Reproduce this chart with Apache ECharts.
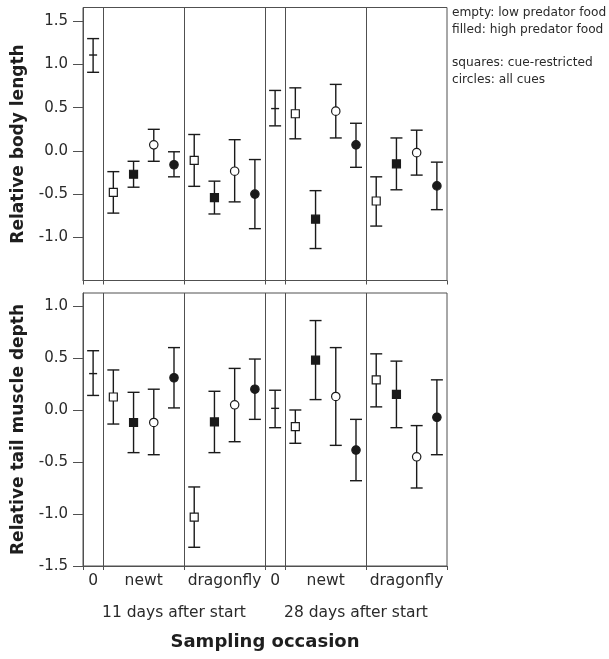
<!DOCTYPE html>
<html>
<head>
<meta charset="utf-8">
<script src="https://cdn.jsdelivr.net/npm/echarts@6/dist/echarts.min.js"></script>
<style>
  html, body { margin: 0; padding: 0; background: #fff; }
  #chart { width: 609px; height: 659px; }
</style>
</head>
<body>
<div id="chart"></div>
<script>
// groups along the x axis
const groupNames = ['0', 'newt', 'dragonfly', '0', 'newt', 'dragonfly'];
const groupSizes = [1, 4, 4, 1, 4, 4];
const dayLabels = ['11 days after start', '28 days after start'];

// marker kind per point: ref = start value, sq = cue-restricted, ci = all cues; Open = low, Fill = high food
const pointKind = [
  'ref', 'sqOpen', 'sqFill', 'ciOpen', 'ciFill', 'sqOpen', 'sqFill', 'ciOpen', 'ciFill',
  'ref', 'sqOpen', 'sqFill', 'ciOpen', 'ciFill', 'sqOpen', 'sqFill', 'ciOpen', 'ciFill'
];

// relative body length
const bodyMean  = [1.11, -0.48, -0.27, 0.07, -0.16, -0.11, -0.54, -0.235, -0.50, 0.49, 0.43, -0.79, 0.46, 0.07, -0.58, -0.15, -0.02, -0.405];
const bodyUpper = [1.30, -0.24, -0.12, 0.25, -0.01, 0.19, -0.35, 0.13, -0.10, 0.70, 0.73, -0.46, 0.77, 0.32, -0.30, 0.15, 0.24, -0.13];
const bodyLower = [0.91, -0.72, -0.42, -0.12, -0.30, -0.41, -0.73, -0.59, -0.90, 0.29, 0.14, -1.13, 0.15, -0.19, -0.87, -0.45, -0.28, -0.68];

// relative tail muscle depth
const tailMean  = [0.35, 0.125, -0.12, -0.12, 0.31, -1.03, -0.115, 0.05, 0.20, 0.016, -0.16, 0.48, 0.13, -0.385, 0.29, 0.15, -0.45, -0.07];
const tailUpper = [0.57, 0.385, 0.17, 0.20, 0.60, -0.74, 0.18, 0.40, 0.49, 0.19, 0.0, 0.86, 0.60, -0.09, 0.54, 0.47, -0.15, 0.29];
const tailLower = [0.14, -0.135, -0.41, -0.43, 0.02, -1.32, -0.41, -0.305, -0.09, -0.17, -0.32, 0.10, -0.34, -0.68, 0.03, -0.17, -0.75, -0.43];

const bodyTicks = [-1.0, -0.5, 0.0, 0.5, 1.0, 1.5];
const tailTicks = [-1.5, -1.0, -0.5, 0.0, 0.5, 1.0];

const legendLines = ['empty: low predator food', 'filled: high predator food', '', 'squares: cue-restricted', 'circles: all cues'];

// positions derived from group sizes
const boundaries = [0];
groupSizes.forEach(s => boundaries.push(boundaries[boundaries.length - 1] + s));
const xMax = boundaries[boundaries.length - 1];
const dividers = boundaries.slice(1, -1);
const groupCenters = groupSizes.map((s, i) => boundaries[i] + s / 2);
const dayCenters = [boundaries[3] / 2, (boundaries[3] + xMax) / 2];
const xPos = [];
groupSizes.forEach((s, i) => { for (let j = 0; j < s; j++) xPos.push(boundaries[i] + j + 0.5); });

const kinds = ['ref', 'sqOpen', 'sqFill', 'ciOpen', 'ciFill'];
const FONT = '"DejaVu Sans", "Liberation Sans", Arial, sans-serif';
const INK = '#1a1a1a';
const FRAME = '#505050';
const TEXT = '#2a2a2a';

const build = (mean, lo, hi) => xPos.map((x, i) => [x, mean[i], lo[i], hi[i], kinds.indexOf(pointKind[i])]);

function renderErr(params, api) {
  const x = api.value(0);
  const k = kinds[api.value(4)];
  const pM = api.coord([x, api.value(1)]);
  const pLo = api.coord([x, api.value(2)]);
  const pHi = api.coord([x, api.value(3)]);
  const ls = { stroke: INK, lineWidth: 1.4 };
  const cap = 6;
  const children = [
    { type: 'line', shape: { x1: pM[0], y1: pLo[1], x2: pM[0], y2: pHi[1] }, style: ls },
    { type: 'line', shape: { x1: pM[0] - cap, y1: pLo[1], x2: pM[0] + cap, y2: pLo[1] }, style: ls },
    { type: 'line', shape: { x1: pM[0] - cap, y1: pHi[1], x2: pM[0] + cap, y2: pHi[1] }, style: ls }
  ];
  const fill = k.endsWith('Fill') ? INK : '#fff';
  if (k === 'ref') {
    children.push({ type: 'line', shape: { x1: pM[0] - 4, y1: pM[1], x2: pM[0] + 4, y2: pM[1] }, style: ls });
  } else if (k.startsWith('sq')) {
    const s = 8;
    children.push({ type: 'rect', shape: { x: pM[0] - s / 2, y: pM[1] - s / 2, width: s, height: s }, style: { fill, stroke: INK, lineWidth: 1.2 } });
  } else {
    children.push({ type: 'circle', shape: { cx: pM[0], cy: pM[1], r: 4.2 }, style: { fill, stroke: INK, lineWidth: 1.2 } });
  }
  return { type: 'group', children };
}

const dividerSeries = (idx) => ({
  type: 'line', xAxisIndex: idx, yAxisIndex: idx, data: [], silent: true,
  markLine: {
    symbol: 'none', silent: true, animation: false,
    label: { show: false },
    lineStyle: { color: FRAME, width: 1, type: 'solid' },
    data: dividers.map(d => ({ xAxis: d }))
  }
});

const baseX = (gridIndex) => ({
  type: 'value', gridIndex, min: 0, max: xMax, position: 'bottom',
  axisLine: { show: true, onZero: false, lineStyle: { color: FRAME, width: 1 } },
  axisTick: { show: true, customValues: boundaries, length: 4, lineStyle: { color: FRAME } },
  splitLine: { show: false },
  axisLabel: { show: false }
});

const baseY = (gridIndex, min, max, ticks, name) => ({
  type: 'value', gridIndex, min, max,
  axisLine: { show: true, onZero: false, lineStyle: { color: FRAME, width: 1 } },
  axisTick: { show: true, customValues: ticks, length: 10, lineStyle: { color: FRAME } },
  axisLabel: { customValues: ticks, formatter: v => v.toFixed(1), fontSize: 15, color: TEXT, fontFamily: FONT, margin: 15 },
  splitLine: { show: false },
  name, nameLocation: 'middle', nameGap: 56,
  nameTextStyle: { fontSize: 17, fontWeight: 'bold', color: '#1e1e1e', fontFamily: FONT }
});

const chart = echarts.init(document.getElementById('chart'), null, { renderer: 'canvas' });

chart.setOption({
  animation: false,
  backgroundColor: '#fff',
  grid: [
    { left: 83, top: 7.5, width: 364, height: 273, show: true, borderColor: FRAME, borderWidth: 1, backgroundColor: 'transparent' },
    { left: 83, top: 293, width: 364, height: 273, show: true, borderColor: FRAME, borderWidth: 1, backgroundColor: 'transparent' }
  ],
  xAxis: [
    baseX(0),
    Object.assign(baseX(1), {
      axisLabel: {
        show: true, customValues: groupCenters, margin: 7, fontSize: 15.5, color: TEXT, fontFamily: FONT,
        formatter: v => groupNames[groupCenters.findIndex(c => Math.abs(c - v) < 1e-6)] || ''
      }
    }),
    {
      type: 'value', gridIndex: 1, min: 0, max: xMax, position: 'bottom',
      axisLine: { show: false, onZero: false }, axisTick: { show: false }, splitLine: { show: false },
      axisLabel: {
        show: true, customValues: dayCenters, margin: 39, fontSize: 15.5, color: TEXT, fontFamily: FONT,
        formatter: v => dayLabels[dayCenters.findIndex(c => Math.abs(c - v) < 1e-6)] || ''
      },
      name: 'Sampling occasion', nameLocation: 'middle', nameGap: 67,
      nameTextStyle: { fontSize: 18, fontWeight: 'bold', color: '#1e1e1e', fontFamily: FONT }
    }
  ],
  yAxis: [
    baseY(0, -1.5, 1.66, bodyTicks, 'Relative body length'),
    baseY(1, -1.5, 1.125, tailTicks, 'Relative tail muscle depth')
  ],
  graphic: legendLines.map((t, i) => ({
    type: 'text', left: 452, top: 7 + i * 16.7,
    style: { text: t, fontSize: 12.2, fill: TEXT, fontFamily: FONT }
  })),
  series: [
    dividerSeries(0),
    dividerSeries(1),
    {
      type: 'custom', xAxisIndex: 0, yAxisIndex: 0, renderItem: renderErr,
      encode: { x: 0, y: [1, 2, 3] }, data: build(bodyMean, bodyLower, bodyUpper), z: 5
    },
    {
      type: 'custom', xAxisIndex: 1, yAxisIndex: 1, renderItem: renderErr,
      encode: { x: 0, y: [1, 2, 3] }, data: build(tailMean, tailLower, tailUpper), z: 5
    }
  ]
});
</script>
</body>
</html>
